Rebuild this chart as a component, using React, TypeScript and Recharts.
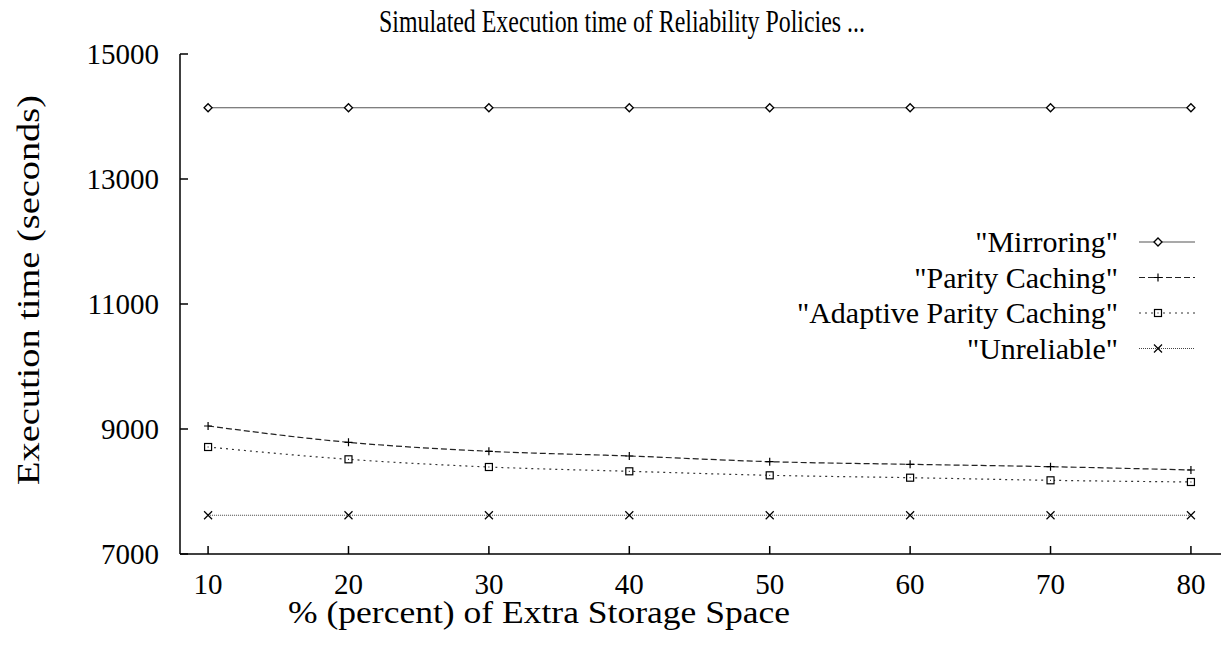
import { LineChart, Line, XAxis, YAxis, Legend } from "recharts";

// % of extra storage space
const pct = [10, 20, 30, 40, 50, 60, 70, 80];
const mirroring = [14140, 14140, 14140, 14140, 14140, 14140, 14140, 14140];
const parityCaching = [9048, 8787, 8643, 8568, 8477, 8435, 8397, 8344];
const adaptiveParity = [8712, 8515, 8392, 8323, 8259, 8221, 8179, 8152];
const unreliable = [7620, 7620, 7620, 7620, 7620, 7620, 7620, 7620];
const yTicks = [7000, 9000, 11000, 13000, 15000];

const rows = pct.map((p, i) => ({
  pct: p,
  mirroring: mirroring[i],
  parity: parityCaching[i],
  adaptive: adaptiveParity[i],
  unreliable: unreliable[i],
}));

type MarkKind = "diamond" | "plus" | "square" | "cross";

const SERIES: { key: string; name: string; dash?: string; stroke: string; mark: MarkKind }[] = [
  { key: "mirroring", name: '"Mirroring"', stroke: "#555", mark: "diamond" },
  { key: "parity", name: '"Parity Caching"', dash: "6 3", stroke: "#222", mark: "plus" },
  { key: "adaptive", name: '"Adaptive Parity Caching"', dash: "2 4", stroke: "#333", mark: "square" },
  { key: "unreliable", name: '"Unreliable"', dash: "1 1", stroke: "#444", mark: "cross" },
];

const FONT = '"Liberation Serif", "Times New Roman", serif';
// the frame runs off the right edge of the picture
const X_DOMAIN = [8, 82.64];

function Marker({ kind, cx, cy }: { kind: MarkKind; cx: number; cy: number }) {
  const s = 4;
  if (kind === "diamond") {
    return (
      <path
        d={`M${cx - s},${cy} L${cx},${cy - s} L${cx + s},${cy} L${cx},${cy + s} Z`}
        fill="#fff"
        stroke="#000"
        strokeWidth={1.3}
      />
    );
  }
  if (kind === "plus") {
    return (
      <path
        d={`M${cx - s},${cy} H${cx + s} M${cx},${cy - s} V${cy + s}`}
        stroke="#000"
        strokeWidth={1.2}
      />
    );
  }
  if (kind === "square") {
    return (
      <g>
        <rect x={cx - 3.5} y={cy - 3.5} width={7} height={7} fill="#fff" stroke="#000" strokeWidth={1.2} />
        <rect x={cx - 0.5} y={cy - 0.5} width={1} height={1} fill="#000" />
      </g>
    );
  }
  return (
    <path
      d={`M${cx - s},${cy - s} L${cx + s},${cy + s} M${cx - s},${cy + s} L${cx + s},${cy - s}`}
      stroke="#000"
      strokeWidth={1.2}
    />
  );
}

function makeDot(kind: MarkKind) {
  return (props: any) => <Marker key={`${kind}-${props.index}`} kind={kind} cx={props.cx} cy={props.cy} />;
}

const LegendBox = () => (
  <svg width={480} height={150} style={{ fontFamily: FONT }}>
    {SERIES.map((s, i) => {
      const y = 18 + i * 35.5;
      return (
        <g key={s.key}>
          <text x={400} y={y + 10} textAnchor="end" fontSize={30} fontFamily={FONT} fill="#000">
            {s.name}
          </text>
          <line x1={421} x2={477} y1={y} y2={y} stroke={s.stroke} strokeDasharray={s.dash} strokeWidth={1.2} />
          <Marker kind={s.mark} cx={440} cy={y} />
        </g>
      );
    })}
  </svg>
);

const tickStyle = { fill: "#000", fontSize: 29, fontFamily: FONT };

export default function App() {
  return (
    <div style={{ position: "relative", width: 1221, height: 629, overflow: "hidden", fontFamily: FONT }}>
      <svg width={1221} height={60} style={{ position: "absolute", left: 0, top: 0 }}>
        <text x={614} y={24} textAnchor="middle" fontSize={31} fontFamily={FONT} textLength={486} lengthAdjust="spacingAndGlyphs" fill="#000">
          Simulated Execution time of Reliability Policies ...
        </text>
      </svg>
      <LineChart width={1221} height={629} data={rows} margin={{ top: 46, right: 0, bottom: 0, left: 0 }}>
        <XAxis
          dataKey="pct"
          type="number"
          domain={X_DOMAIN}
          ticks={pct}
          tick={tickStyle}
          tickSize={-8}
          tickMargin={27}
          height={83}
          stroke="#000"
          strokeWidth={1.5}
          label={{
            content: () => (
              <text x={531} y={615} textAnchor="middle" fontSize={31} fontFamily={FONT} textLength={502} lengthAdjust="spacingAndGlyphs" fill="#000">
                % (percent) of Extra Storage Space
              </text>
            ),
          }}
        />
        <XAxis
          xAxisId="top"
          orientation="top"
          dataKey="pct"
          type="number"
          domain={X_DOMAIN}
          ticks={pct}
          tick={false}
          tickSize={-8}
          height={0}
          stroke="#000"
          strokeWidth={1.5}
        />
        <YAxis
          type="number"
          domain={[7000, 15000]}
          ticks={yTicks}
          tick={tickStyle}
          tickSize={-8}
          tickMargin={29}
          width={172}
          stroke="#000"
          strokeWidth={1.5}
          label={{
            content: () => (
              <text
                x={20}
                y={282}
                transform="rotate(-90, 20, 282)"
                textAnchor="middle"
                dominantBaseline="central"
                fontSize={32}
                fontFamily={FONT}
                textLength={390}
                lengthAdjust="spacingAndGlyphs"
                fill="#000"
              >
                Execution time (seconds)
              </text>
            ),
          }}
        />
        <YAxis
          yAxisId="right"
          orientation="right"
          type="number"
          domain={[7000, 15000]}
          ticks={yTicks}
          tick={false}
          tickSize={-8}
          axisLine={false}
          width={1}
          stroke="#000"
          strokeWidth={1.5}
        />
        <Legend
          layout="vertical"
          align="center"
          verticalAlign="middle"
          content={() => <LegendBox />}
          wrapperStyle={{ left: 710, top: 216, width: 480, height: 150 }}
        />
        {SERIES.map((s) => (
          <Line
            key={s.key}
            dataKey={s.key}
            name={s.name}
            type="monotone"
            stroke={s.stroke}
            strokeWidth={1.2}
            strokeDasharray={s.dash}
            dot={makeDot(s.mark)}
            activeDot={false}
            isAnimationActive={false}
          />
        ))}
      </LineChart>
    </div>
  );
}
